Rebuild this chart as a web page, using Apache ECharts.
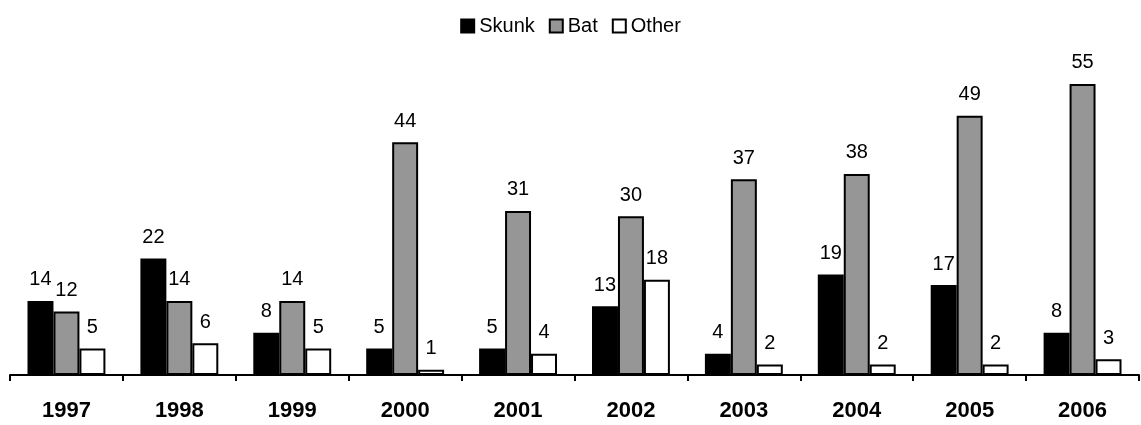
<!DOCTYPE html>
<html>
<head>
<meta charset="utf-8">
<script src="https://cdn.jsdelivr.net/npm/echarts@6/dist/echarts.min.js"></script>
<style>
html,body{margin:0;padding:0;background:#fff;}
#chart{width:1141px;height:425px;}
</style>
</head>
<body>
<div id="chart"></div>
<script>
const categories = ['1997','1998','1999','2000','2001','2002','2003','2004','2005','2006'];
const skunk = [14, 22, 8, 5, 5, 13, 4, 19, 17, 8];
const bat = [12, 14, 14, 44, 31, 30, 37, 38, 49, 55];
const other = [5, 6, 5, 1, 4, 18, 2, 2, 2, 3];

const font = 'Arial, "Liberation Sans", sans-serif';
const chart = echarts.init(document.getElementById('chart'));

function makeSeries(name, data, color) {
  return {
    name: name,
    type: 'bar',
    data: data,
    barGap: '0%',
    barCategoryGap: '31%',
    itemStyle: { color: color, borderColor: '#000', borderWidth: 2 },
    label: {
      show: true,
      position: 'top',
      distance: 11,
      color: '#000',
      fontFamily: font,
      fontSize: 20
    },
    emphasis: { disabled: true },
    animation: false
  };
}

chart.setOption({
  animation: false,
  backgroundColor: '#fff',
  legend: {
    top: 11,
    left: 'center',
    icon: 'rect',
    itemWidth: 13,
    itemHeight: 13,
    itemGap: 14,
    textStyle: { fontFamily: font, fontSize: 20, color: '#000' },
    data: ['Skunk', 'Bat', 'Other']
  },
  grid: { left: 10, right: 2, top: 57.5, bottom: 50, containLabel: false },
  xAxis: {
    type: 'category',
    data: categories,
    axisLine: { lineStyle: { color: '#000', width: 2 } },
    axisTick: { show: true, inside: false, length: 6, lineStyle: { color: '#000', width: 2 } },
    axisLabel: { fontFamily: font, fontSize: 22, fontWeight: 'bold', color: '#000', margin: 25 }
  },
  yAxis: {
    type: 'value',
    min: 0,
    max: 60,
    show: false
  },
  series: [
    makeSeries('Skunk', skunk, '#000000'),
    makeSeries('Bat', bat, '#969696'),
    makeSeries('Other', other, '#ffffff')
  ]
});
</script>
</body>
</html>
